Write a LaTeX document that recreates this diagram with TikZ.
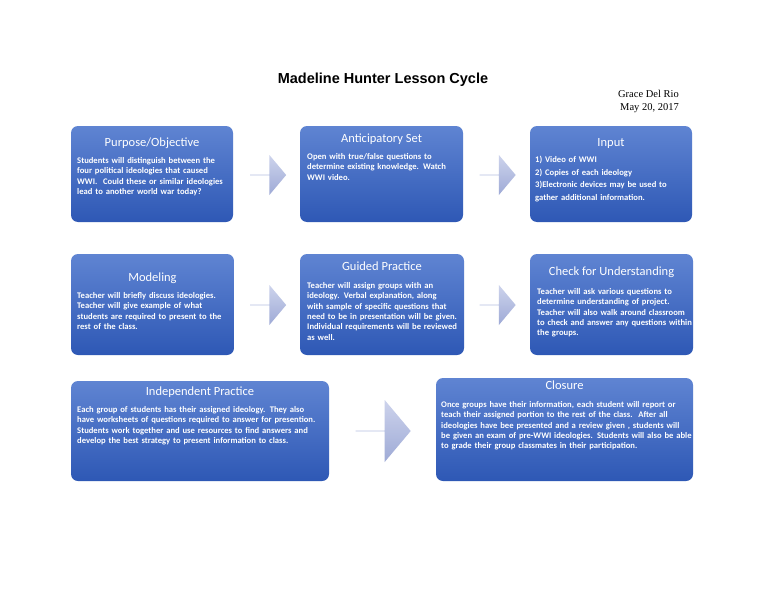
\documentclass[tikz,border=0pt]{standalone}
\usepackage{fontspec}
\setmainfont{Carlito}
\newfontfamily\titlefont{Liberation Sans}
\newfontfamily\serifnm{Liberation Serif}
\usetikzlibrary{shapes.arrows}
\definecolor{boxtop}{HTML}{5F84D2}
\definecolor{boxbot}{HTML}{2E58B5}
\definecolor{arrtop}{HTML}{CDD3EC}
\definecolor{arrbot}{HTML}{9EAAD6}
\newcommand\bodyfmt{\bfseries\fontsize{8.6}{10.4}\selectfont\hyphenpenalty=10000\relax}
\newcommand\inputfmt{\bfseries\fontsize{8.6}{12.5}\selectfont\hyphenpenalty=10000\relax}
\tikzset{
  box/.style={rectangle, rounded corners=7pt, top color=boxtop, bottom color=boxbot, draw=none, inner sep=0pt},
  head/.style={anchor=north, text=white, font=\fontsize{12.5}{14}\selectfont, inner sep=0pt},
  body/.style={anchor=north west, text=white, align=left, font=\bodyfmt, inner sep=0pt},
  arr/.style={single arrow, top color=arrtop, bottom color=arrbot, draw=none, single arrow head extend=10pt, inner sep=0pt, minimum height=36pt, minimum width=40pt, single arrow tip angle=100},
}
\begin{document}
\begin{tikzpicture}[x=1pt,y=-1pt]
\useasboundingbox (0,0) rectangle (768,594);
\fill[white] (0,0) rectangle (768,594);
\node[font=\titlefont\bfseries\fontsize{14.5}{17}\selectfont] (title) at (383,80) {Madeline Hunter Lesson Cycle};
\node[font=\serifnm\fontsize{10.5}{13}\selectfont, anchor=north east, align=right, inner sep=0pt] (auth) at (679,90) {Grace Del Rio\\May 20, 2017};
% row 1
\node[box, minimum width=162pt, minimum height=96pt] (b1) at (152,174) {};
\node[head] (h1) at (152,138) {Purpose/Objective};
\node[body, text width=152pt] (t1) at (77,157) {Students will distinguish between the four political ideologies that caused WWI.\ \ Could these or similar ideologies lead to another world war today?};
\node[box, minimum width=163pt, minimum height=96pt] (b2) at (381.5,174) {};
\node[head] (h2) at (381.5,134) {Anticipatory Set};
\node[body, text width=152pt] (t2) at (307,153) {Open with true/false questions to determine existing knowledge. Watch WWI video.};
\node[box, minimum width=162pt, minimum height=96pt] (b3) at (611,174) {};
\node[head] (h3) at (611,138) {Input};
\node[body, text width=155pt, font=\inputfmt] (t3) at (535,156) {1) Video of WWI\\2) Copies of each ideology\\3)Electronic devices may be used to gather additional information.};
\node[arr] (a1) at (268,175) {};
\node[arr] (a2) at (497.5,175) {};
% row 2
\node[box, minimum width=163pt, minimum height=101pt] (b4) at (152.5,304.5) {};
\node[head] (h4) at (152.5,273) {Modeling};
\node[body, text width=155pt] (t4) at (77,292) {Teacher will briefly discuss ideologies. Teacher will give example of what students are required to present to the rest of the class.};
\node[box, minimum width=164pt, minimum height=101pt] (b5) at (382,304.5) {};
\node[head] (h5) at (382,262) {Guided Practice};
\node[body, text width=156pt] (t5) at (307,282) {Teacher will assign groups with an ideology. Verbal explanation, along with sample of specific questions that need to be in presentation will be given.\ \ Individual requirements will be reviewed as well.};
\node[box, minimum width=163pt, minimum height=101pt] (b6) at (611.5,304.5) {};
\node[head] (h6) at (611.5,267) {Check for Understanding};
\node[body, text width=155pt] (t6) at (537,288) {Teacher will ask various questions to determine understanding of project. Teacher will also walk around classroom to check and answer any questions within the groups.};
\node[arr] (a3) at (268,305) {};
\node[arr] (a4) at (497.5,305) {};
% row 3
\node[box, minimum width=258pt, minimum height=100pt] (b7) at (200,431) {};
\node[head] (h7) at (200,387) {Independent Practice};
\node[body, text width=252pt] (t7) at (77,406) {Each group of students has their assigned ideology. They also have worksheets of questions required to answer for presention.\ \ Students work together and use resources to find answers and develop the best strategy to present information to class.};
\node[box, minimum width=257pt, minimum height=103pt] (b8) at (564.5,429.5) {};
\node[head] (h8) at (564.5,381) {Closure};
\node[body, text width=252pt] (t8) at (441,401) {Once groups have their information, each student will report or teach their assigned portion to the rest of the class.\ \ After all ideologies have bee presented and a review given , students will be given an exam of pre-WWI ideologies. Students will also be able to grade their group classmates in their participation.};
\node[arr, minimum height=55pt, minimum width=62pt, single arrow head extend=14pt] (a5) at (383,431) {};
\end{tikzpicture}
\end{document}
